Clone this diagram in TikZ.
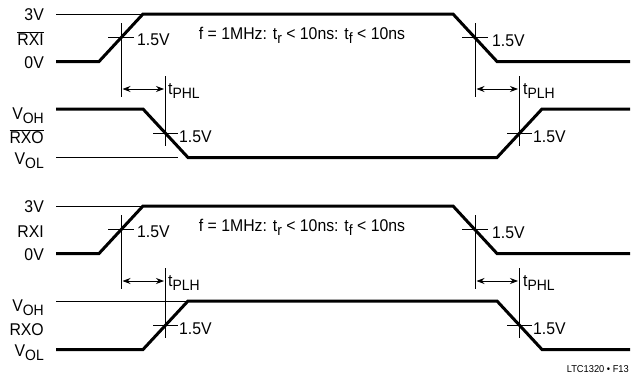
\documentclass[tikz,border=0pt]{standalone}
\usepackage{fontspec}
\setmainfont{Liberation Sans}[FakeStretch=0.93]
\usetikzlibrary{arrows.meta}
\newcommand\mysub[1]{\raisebox{-0.5ex}{\fontsize{15}{15}\selectfont #1}}
\newcommand\mybar[1]{$\overline{\mbox{#1}}$}
\begin{document}
\begin{tikzpicture}[x=1pt,y=-1pt,
  every node/.style={inner sep=0pt,font=\fontsize{17}{20}\selectfont},
  wave/.style={line width=3pt,line join=miter},
  thinl/.style={line width=0.8pt},
  arr/.style={{Stealth[length=8pt,width=6pt]}-{Stealth[length=8pt,width=6pt]},line width=0.8pt,shorten <=1.5pt,shorten >=1.5pt},
  lbl/.style={anchor=base east},
  lab/.style={anchor=base west},
  foot/.style={anchor=base east,font=\fontsize{10}{12}\selectfont}]
\path[use as bounding box] (0,0) rectangle (640,375);

% ---------- top panel ----------
\node[lbl] (t3v) at (44,20.7) {3V};
\node[lbl] (trxi) at (44,45) {\mybar{RXI}};
\node[lbl] (t0v) at (44,68) {0V};
\node[lbl] (tvoh) at (44,119) {V\mysub{OH}};
\node[lbl] (trxo) at (44,143) {\mybar{RXO}};
\node[lbl] (tvol) at (44,164) {V\mysub{OL}};

\draw[thinl] (56,14) -- (143,14);
\draw[wave] (56,61.5) -- (99,61.5) -- (143,14) -- (453,14) -- (497,61.5) -- (630,61.5);
\coordinate (ta1) at (121,23); \coordinate (ta2) at (121,97);
\coordinate (tb1) at (475,23); \coordinate (tb2) at (475,97);
\draw[thinl] (ta1) -- (ta2);
\draw[thinl] (tb1) -- (tb2);
\draw[thinl] (108,37.75) -- (134,37.75);
\draw[thinl] (462,37.75) -- (488,37.75);
\node[lab] (tl1) at (137,45) {1.5V};
\node[lab] (tl2) at (492,46) {1.5V};
\node[anchor=base] (tf) at (302,39) {f = 1MHz: t\mysub{r} < 10ns: t\mysub{f} < 10ns};

\draw[thinl] (56,157.5) -- (178,157.5);
\draw[wave] (56,109) -- (143,109) -- (188,157.5) -- (497,157.5) -- (542,109) -- (630,109);
\coordinate (tc1) at (165.5,76); \coordinate (tc2) at (165.5,146);
\coordinate (td1) at (519.5,76); \coordinate (td2) at (519.5,146);
\draw[thinl] (tc1) -- (tc2);
\draw[thinl] (td1) -- (td2);
\draw[thinl] (153,133.25) -- (178,133.25);
\draw[thinl] (507,133.25) -- (532,133.25);
\node[lab] (tl3) at (179,142) {1.5V};
\node[lab] (tl4) at (533,142) {1.5V};
\coordinate (tp1) at (121,89); \coordinate (tp2) at (165.5,89);
\coordinate (tq1) at (475,89); \coordinate (tq2) at (519.5,89);
\draw[arr] (tp1) -- (tp2);
\draw[arr] (tq1) -- (tq2);
\node[lab] (tphl) at (168,94) {t\mysub{PHL}};
\node[lab] (tplh) at (523,94) {t\mysub{PLH}};

% ---------- bottom panel ----------
\node[lbl] (b3v) at (44,212.7) {3V};
\node[lbl] (brxi) at (44,237) {RXI};
\node[lbl] (b0v) at (44,260) {0V};
\node[lbl] (bvoh) at (44,311) {V\mysub{OH}};
\node[lbl] (brxo) at (44,335) {RXO};
\node[lbl] (bvol) at (44,356) {V\mysub{OL}};

\draw[thinl] (56,206) -- (143,206);
\draw[wave] (56,253.5) -- (99,253.5) -- (143,206) -- (453,206) -- (497,253.5) -- (630,253.5);
\coordinate (ba1) at (121,215); \coordinate (ba2) at (121,289);
\coordinate (bb1) at (475,215); \coordinate (bb2) at (475,289);
\draw[thinl] (ba1) -- (ba2);
\draw[thinl] (bb1) -- (bb2);
\draw[thinl] (108,229.75) -- (134,229.75);
\draw[thinl] (462,229.75) -- (488,229.75);
\node[lab] (bl1) at (137,237) {1.5V};
\node[lab] (bl2) at (492,238) {1.5V};
\node[anchor=base] (bf) at (302,231) {f = 1MHz: t\mysub{r} < 10ns: t\mysub{f} < 10ns};

\draw[thinl] (56,301) -- (188,301);
\draw[wave] (56,349.5) -- (143,349.5) -- (188,301) -- (497,301) -- (542,349.5) -- (630,349.5);
\coordinate (bc1) at (165.5,268); \coordinate (bc2) at (165.5,338);
\coordinate (bd1) at (519.5,268); \coordinate (bd2) at (519.5,338);
\draw[thinl] (bc1) -- (bc2);
\draw[thinl] (bd1) -- (bd2);
\draw[thinl] (153,325.25) -- (178,325.25);
\draw[thinl] (507,325.25) -- (532,325.25);
\node[lab] (bl3) at (179,334) {1.5V};
\node[lab] (bl4) at (533,334) {1.5V};
\coordinate (bp1) at (121,281); \coordinate (bp2) at (165.5,281);
\coordinate (bq1) at (475,281); \coordinate (bq2) at (519.5,281);
\draw[arr] (bp1) -- (bp2);
\draw[arr] (bq1) -- (bq2);
\node[lab] (bplh) at (168,286) {t\mysub{PLH}};
\node[lab] (bphl) at (523,286) {t\mysub{PHL}};

\node[foot] (ft) at (629,372) {LTC1320 • F13};
\end{tikzpicture}
\end{document}
